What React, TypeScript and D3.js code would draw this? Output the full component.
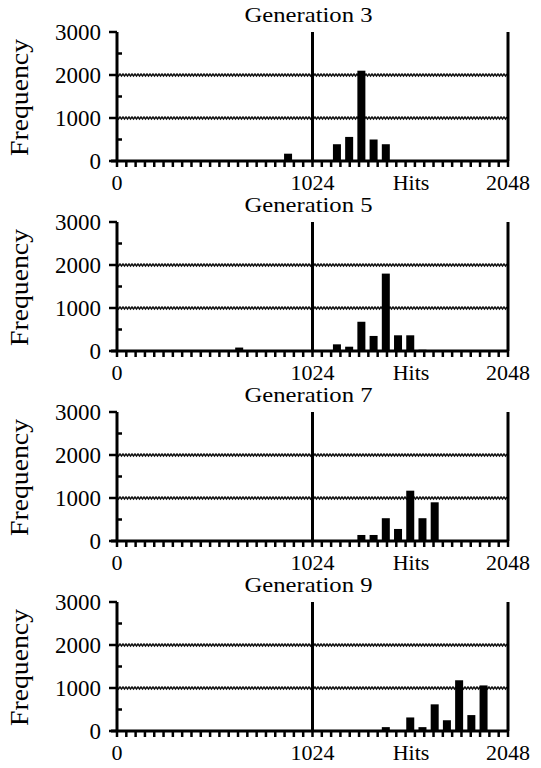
import React from "react";
import * as d3 from "d3";

// ---- data ----
const titles = ["Generation 3", "Generation 5", "Generation 7", "Generation 9"];
const gen3Bins = [896, 1152, 1216, 1280, 1344, 1408];
const gen3Freq = [170, 390, 560, 2100, 500, 390];
const gen5Bins = [640, 1152, 1216, 1280, 1344, 1408, 1472, 1536, 1600];
const gen5Freq = [80, 155, 100, 680, 350, 1800, 365, 365, 30];
const gen7Bins = [1280, 1344, 1408, 1472, 1536, 1600, 1664];
const gen7Freq = [140, 140, 530, 280, 1170, 530, 900];
const gen9Bins = [1408, 1536, 1600, 1664, 1728, 1792, 1856, 1920];
const gen9Freq = [90, 315, 90, 620, 250, 1180, 370, 1060];
const yTicks = [0, 1000, 2000, 3000];
const yMinorTicks = [500, 1500, 2500];
const gridValues = [1000, 2000];
const xLabels = ["0", "1024", "Hits", "2048"];
const xLabelPos = [0, 1024, 1540, 2048];
const markerLines = [1024, 2048];
const xTickCount = 42;

const panels = [
  { title: titles[0], bins: gen3Bins, freq: gen3Freq },
  { title: titles[1], bins: gen5Bins, freq: gen5Freq },
  { title: titles[2], bins: gen7Bins, freq: gen7Freq },
  { title: titles[3], bins: gen9Bins, freq: gen9Freq },
];

const W = 541;
const H = 768;
const FONT = "'Liberation Serif', 'Times New Roman', serif";

const x = d3.scaleLinear().domain([0, 2048]).range([117, 508]);
const xTicks = d3.range(0, xTickCount + 1).map((k) => (k * 2048) / xTickCount);

function zigzag(x0: number, x1: number, y: number) {
  const pts: [number, number][] = [];
  let i = 0;
  for (let xx = x0; xx <= x1; xx += 1.5, i++) {
    pts.push([xx, y + (i % 2 === 0 ? -1 : 1)]);
  }
  return d3.line()(pts) || "";
}

function Panel({ idx, title, bins, freq }: { idx: number; title: string; bins: number[]; freq: number[] }) {
  const y0 = 161 + idx * 190;
  const y = d3.scaleLinear().domain([0, 3000]).range([y0, y0 - 129]);
  const barW = 8;
  const xl = x(0);
  const xr = x(2048);
  return (
    <g>
      <text
        x={(xl + xr) / 2 - 4}
        y={y0 - 139}
        style={{ fontFamily: FONT }}
        fontSize={22}
        textAnchor="middle"
        textLength={128}
        lengthAdjust="spacingAndGlyphs"
      >
        {title}
      </text>
      <text
        transform={`translate(28, ${(y(0) + y(3000)) / 2 + 1}) rotate(-90)`}
        style={{ fontFamily: FONT }}
        fontSize={25}
        textAnchor="middle"
        textLength={117}
        lengthAdjust="spacingAndGlyphs"
      >
        Frequency
      </text>
      {gridValues.map((v) => (
        <path key={v} d={zigzag(xl, xr, y(v))} fill="none" stroke="#111" strokeWidth={1.4} />
      ))}
      {bins.map((b, i) => (
        <rect key={b} x={x(b) - barW / 2} y={y(freq[i])} width={barW} height={y(0) - y(freq[i])} fill="#000" />
      ))}
      {markerLines.map((m) => (
        <line key={m} x1={x(m)} x2={x(m)} y1={y(3000)} y2={y(0)} stroke="#000" strokeWidth={3} />
      ))}
      {/* y axis */}
      <line x1={xl} x2={xl} y1={y(3000)} y2={y(0)} stroke="#000" strokeWidth={3} />
      {yTicks.map((t) => (
        <g key={t}>
          <line x1={xl - 8} x2={xl} y1={y(t)} y2={y(t)} stroke="#000" strokeWidth={2.5} />
          <text x={101} y={y(t)} dy="0.35em" style={{ fontFamily: FONT }} fontSize={23} textAnchor="end">
            {d3.format("d")(t)}
          </text>
        </g>
      ))}
      {yMinorTicks.map((t) => (
        <line key={t} x1={xl} x2={xl + 5} y1={y(t)} y2={y(t)} stroke="#000" strokeWidth={2.5} />
      ))}
      {/* x axis */}
      <line x1={xl - 6} x2={xr} y1={y(0)} y2={y(0)} stroke="#000" strokeWidth={3} />
      {xTicks.map((t, i) => (
        <line key={i} x1={x(t)} x2={x(t)} y1={y(0)} y2={y(0) + 6} stroke="#000" strokeWidth={2.5} />
      ))}
      {xLabels.map((l, i) => (
        <text key={l} x={x(xLabelPos[i])} y={y0 + 29} style={{ fontFamily: FONT }} fontSize={22} textAnchor="middle">
          {l}
        </text>
      ))}
    </g>
  );
}

export default function App() {
  return (
    <svg
      width={W}
      height={H}
      viewBox={`0 0 ${W} ${H}`}
      style={{ position: "absolute", left: 0, top: 0, background: "#fff" }}
    >
      <rect width={W} height={H} fill="#fff" />
      {panels.map((p, i) => (
        <Panel key={p.title} idx={i} title={p.title} bins={p.bins} freq={p.freq} />
      ))}
    </svg>
  );
}
